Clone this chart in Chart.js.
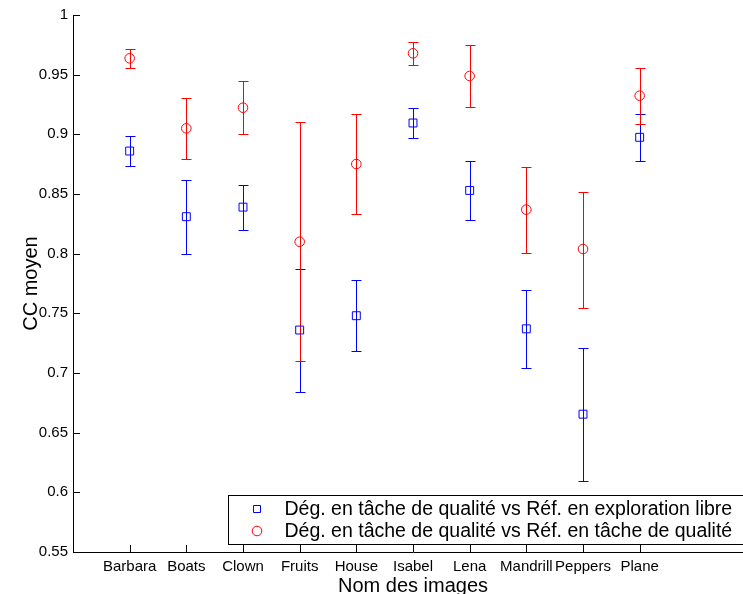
<!DOCTYPE html>
<html>
<head>
<meta charset="utf-8">
<script src="https://cdn.jsdelivr.net/npm/chart.js@4.4.1/dist/chart.umd.min.js"></script>
<style>
  html, body { margin: 0; padding: 0; background: #fff; overflow: hidden; }
  #wrap { width: 760px; height: 600px; position: relative; }
</style>
</head>
<body>
<div id="wrap"><canvas id="ccChart"></canvas></div>
<script>
// categories and values
const categories = ['Barbara', 'Boats', 'Clown', 'Fruits', 'House', 'Isabel', 'Lena', 'Mandrill', 'Peppers', 'Plane'];

const libreMean  = [0.886, 0.831, 0.839, 0.736, 0.748, 0.9095, 0.853, 0.737, 0.6655, 0.8975];
const libreUpper = [0.8986, 0.862, 0.8573, 0.7871, 0.7779, 0.9223, 0.8779, 0.7696, 0.7212, 0.917];
const libreLower = [0.8737, 0.7997, 0.8198, 0.684, 0.7184, 0.8966, 0.828, 0.7039, 0.6098, 0.8777];

const qualiteMean  = [0.9637, 0.905, 0.9223, 0.81, 0.8751, 0.9679, 0.9489, 0.8369, 0.8039, 0.9324];
const qualiteUpper = [0.9718, 0.9307, 0.9447, 0.9101, 0.9168, 0.9774, 0.9746, 0.8729, 0.8517, 0.9558];
const qualiteLower = [0.9553, 0.8793, 0.9, 0.71, 0.8335, 0.9581, 0.9232, 0.8006, 0.7545, 0.9089];

const seriesLabels = [
    'Dég. en tâche de qualité vs Réf. en exploration libre',
    'Dég. en tâche de qualité vs Réf. en tâche de qualité'
];

const FONT = "'Liberation Sans', Arial, Helvetica, sans-serif";

// error bars drawn under the markers
const errorBars = {
    id: 'errorBars',
    beforeDatasetsDraw(chart) {
        const ctx = chart.ctx;
        const xs = chart.scales.x, ys = chart.scales.y;
        chart.data.datasets.forEach(ds => {
            ctx.save();
            ctx.strokeStyle = ds.borderColor;
            ctx.lineWidth = 1;
            ds.data.forEach((p, i) => {
                const x = Math.round(xs.getPixelForValue(p.x)) + 0.5;
                const yu = Math.round(ys.getPixelForValue(ds.upper[i])) + 0.5;
                const yl = Math.round(ys.getPixelForValue(ds.lower[i])) + 0.5;
                ctx.beginPath();
                ctx.moveTo(x, yu); ctx.lineTo(x, yl);
                ctx.moveTo(x - 5, yu); ctx.lineTo(x + 5, yu);
                ctx.moveTo(x - 5, yl); ctx.lineTo(x + 5, yl);
                ctx.stroke();
            });
            ctx.restore();
        });
    }
};

// matlab style ticks pointing inside the axes
const innerTicks = {
    id: 'innerTicks',
    afterDraw(chart) {
        const ctx = chart.ctx;
        const a = chart.chartArea;
        const xs = chart.scales.x, ys = chart.scales.y;
        ctx.save();
        ctx.strokeStyle = '#000';
        ctx.lineWidth = 1;
        ctx.beginPath();
        ys.ticks.forEach(t => {
            const y = Math.round(ys.getPixelForValue(t.value)) + 0.5;
            ctx.moveTo(a.left, y); ctx.lineTo(a.left + 7, y);
        });
        xs.ticks.forEach(t => {
            const x = Math.round(xs.getPixelForValue(t.value)) + 0.5;
            ctx.moveTo(x, a.bottom); ctx.lineTo(x, a.bottom - 7);
        });
        ctx.stroke();
        ctx.restore();
    }
};

// legend box in the lower right corner of the axes
const legendBox = {
    id: 'legendBox',
    afterDraw(chart) {
        const ctx = chart.ctx;
        const a = chart.chartArea;
        ctx.save();
        ctx.font = '19.5px ' + FONT;
        const textW = Math.max(...seriesLabels.map(s => ctx.measureText(s).width));
        const right = Math.round(a.right - 8) + 0.5;
        const bottom = Math.round(a.bottom - 8) + 0.5;
        const w = 56 + textW + 14;
        const h = 49;
        const left = Math.round(right - w) + 0.5;
        const top = bottom - h;
        ctx.fillStyle = '#fff';
        ctx.fillRect(left, top, w, h);
        ctx.strokeStyle = '#000';
        ctx.lineWidth = 1;
        ctx.strokeRect(left, top, w, h);

        chart.data.datasets.forEach((ds, i) => {
            const cy = top + 13.5 + i * 22;
            const mx = left + 28.5;
            ctx.strokeStyle = ds.borderColor;
            ctx.beginPath();
            if (ds.pointStyle === 'rect') {
                ctx.rect(mx - 3.5, Math.round(cy) - 3.5, 7, 7);
            } else {
                ctx.arc(mx, cy, 4.8, 0, Math.PI * 2);
            }
            ctx.stroke();
            ctx.fillStyle = '#000';
            ctx.textBaseline = 'middle';
            ctx.textAlign = 'left';
            ctx.fillText(ds.label, left + 56, cy + 1);
        });
        ctx.restore();
    }
};

const ctx = document.getElementById('ccChart').getContext('2d');

new Chart(ctx, {
    type: 'scatter',
    data: {
        datasets: [
            {
                label: seriesLabels[0],
                data: libreMean.map((v, i) => ({ x: i + 1, y: v })),
                upper: libreUpper,
                lower: libreLower,
                pointStyle: 'rect',
                pointRadius: 5.6,
                pointHoverRadius: 5.6,
                borderWidth: 1,
                borderColor: '#0000ff',
                backgroundColor: 'rgba(0,0,0,0)'
            },
            {
                label: seriesLabels[1],
                data: qualiteMean.map((v, i) => ({ x: i + 1, y: v })),
                upper: qualiteUpper,
                lower: qualiteLower,
                pointStyle: 'circle',
                pointRadius: 4.8,
                pointHoverRadius: 4.8,
                borderWidth: 1,
                borderColor: '#ff0000',
                backgroundColor: 'rgba(0,0,0,0)'
            }
        ]
    },
    options: {
        responsive: true,
        maintainAspectRatio: false,
        animation: false,
        layout: { padding: { top: 15, right: 7, left: 0, bottom: 0 } },
        plugins: {
            legend: { display: false },
            tooltip: { enabled: false }
        },
        scales: {
            x: {
                type: 'linear',
                min: 0,
                max: 12,
                afterBuildTicks: s => { s.ticks = categories.map((c, i) => ({ value: i + 1 })); },
                afterFit: s => { s.height = 48; },
                ticks: {
                    autoSkip: false,
                    maxRotation: 0,
                    minRotation: 0,
                    padding: 6,
                    color: '#000',
                    font: { family: FONT, size: 15 },
                    callback: v => categories[v - 1] || ''
                },
                grid: { drawOnChartArea: false, drawTicks: false },
                border: { color: '#000', width: 1 },
                title: {
                    display: true,
                    text: 'Nom des images',
                    color: '#000',
                    font: { family: FONT, size: 20 },
                    padding: { top: 0, bottom: 2 }
                }
            },
            y: {
                min: 0.55,
                max: 1,
                afterFit: s => { s.width = 73; },
                ticks: {
                    stepSize: 0.05,
                    padding: 5,
                    color: '#000',
                    font: { family: FONT, size: 15 },
                    callback: v => String(+v.toFixed(2))
                },
                grid: { drawOnChartArea: false, drawTicks: false },
                border: { color: '#000', width: 1 },
                title: {
                    display: true,
                    text: 'CC moyen',
                    color: '#000',
                    font: { family: FONT, size: 20 },
                    padding: { top: 19, bottom: 0 }
                }
            }
        }
    },
    plugins: [errorBars, innerTicks, legendBox]
});
</script>
</body>
</html>
